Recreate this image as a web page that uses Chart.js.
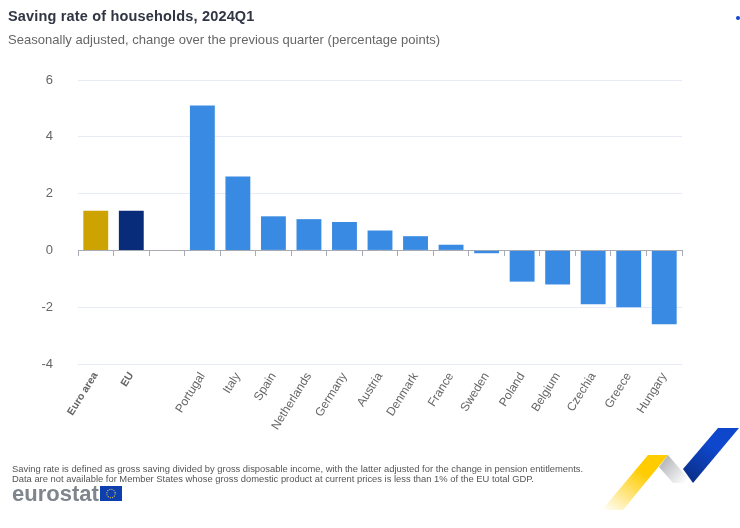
<!DOCTYPE html>
<html>
<head>
<meta charset="utf-8">
<script src="https://cdn.jsdelivr.net/npm/chart.js@4"></script>
<style>
  html, body { margin: 0; padding: 0; background: #fff; overflow: hidden; }
  body { width: 740px; height: 528px; position: relative; font-family: "Liberation Sans", Arial, sans-serif; }
  canvas { position: absolute; left: 0; top: 0; }
  .txt { position: absolute; white-space: nowrap; }
  #title { left: 8px; top: 8px; font-size: 14.5px; font-weight: bold; color: #2f3542; letter-spacing: .17px; }
  #subtitle { left: 8px; top: 32px; font-size: 13px; color: #666; letter-spacing: .03px; }
  #note { left: 12px; top: 464px; font-size: 9.4px; line-height: 9.5px; color: #555; }
  #brand { left: 12px; top: 481px; font-size: 22px; line-height: 26px; font-weight: bold; color: #7f858c; }
  #dot { left: 736px; top: 16px; width: 4px; height: 4px; border-radius: 2px; background: #0e47cb; }
  #art { position: absolute; left: 0; top: 0; }
</style>
</head>
<body>
<canvas id="savingChart" width="740" height="528"></canvas>
<div class="txt" id="title">Saving rate of households, 2024Q1</div>
<div class="txt" id="subtitle">Seasonally adjusted, change over the previous quarter (percentage points)</div>
<div class="txt" id="dot"></div>
<div class="txt" id="note">Saving rate is defined as gross saving divided by gross disposable income, with the latter adjusted for the change in pension entitlements.<br>Data are not available for Member States whose gross domestic product at current prices is less than 1% of the EU total GDP.</div>
<div class="txt" id="brand">eurostat</div>
<svg id="art" width="740" height="528">
  <defs>
    <linearGradient id="yel" x1="0" y1="1" x2="0.6" y2="0.3">
      <stop offset="0" stop-color="#ffcc00" stop-opacity="0"/>
      <stop offset="1" stop-color="#ffcc00"/>
    </linearGradient>
    <linearGradient id="gry" x1="0" y1="0" x2="1" y2="0.7">
      <stop offset="0" stop-color="#a5a8ac"/>
      <stop offset="1" stop-color="#ffffff"/>
    </linearGradient>
    <linearGradient id="blu" x1="0.2" y1="1" x2="0.6" y2="0.4">
      <stop offset="0" stop-color="#0b2f8a"/>
      <stop offset="1" stop-color="#0e47cb"/>
    </linearGradient>
  </defs>
  <polygon points="602,510 623,510 668,455 648,455" fill="url(#yel)"/>
  <polygon points="659,467 668,455 692,483 673,483" fill="url(#gry)"/>
  <polygon points="683,469 718,428 739,428 693,483" fill="url(#blu)"/>
  <rect x="100" y="486" width="22" height="15" fill="#0e3fae"/>
  <circle cx="111" cy="493.5" r="4.2" fill="none" stroke="#d8c15a" stroke-width="1.2" stroke-dasharray="1 1.2"/>
</svg>
<script>
var categories = ['Euro area', 'EU', ' ', 'Portugal', 'Italy', 'Spain', 'Netherlands', 'Germany', 'Austria', 'Denmark', 'France', 'Sweden', 'Poland', 'Belgium', 'Czechia', 'Greece', 'Hungary'];
var values = [1.4, 1.4, null, 5.1, 2.6, 1.2, 1.1, 1.0, 0.7, 0.5, 0.2, -0.1, -1.1, -1.2, -1.9, -2.0, -2.6];
var barColors = ['#cca300', '#082b7a', '#388ae2', '#388ae2', '#388ae2', '#388ae2', '#388ae2', '#388ae2', '#388ae2', '#388ae2', '#388ae2', '#388ae2', '#388ae2', '#388ae2', '#388ae2', '#388ae2', '#388ae2'];
var boldCategories = ['Euro area', 'EU'];

new Chart(document.getElementById('savingChart'), {
  type: 'bar',
  data: {
    labels: categories,
    datasets: [{
      data: values,
      backgroundColor: barColors,
      barPercentage: 0.7,
      categoryPercentage: 1
    }]
  },
  options: {
    responsive: false,
    animation: false,
    devicePixelRatio: 1,
    layout: {padding: {top: 80, right: 58, bottom: 0, left: 0}},
    plugins: {legend: {display: false}, title: {display: false}, tooltip: {enabled: false}},
    scales: {
      y: {
        min: -4, max: 6,
        afterFit: s => { s.width = 78 },
        border: {display: false},
        grid: {color: '#e6ebf5', drawTicks: false},
        ticks: {stepSize: 2, padding: 25, color: '#666', font: {family: 'Liberation Sans', size: 13}}
      },
      x: {
        position: 'bottom',
        afterFit: s => { s.height = 164 },
        border: {display: false},
        grid: {display: false, drawTicks: false},
        ticks: {
          autoSkip: false, minRotation: 58, maxRotation: 58, padding: 6, color: '#666',
          font: c => {
            var bold = boldCategories.includes(c.tick && c.tick.label)
            return {family: 'Liberation Sans', size: bold ? 10.5 : 12, weight: bold ? 'bold' : 'normal'}
          }
        }
      },
      // baseline with tick marks at zero
      zero: {
        type: 'category',
        axis: 'x',
        labels: categories,
        position: {y: 0},
        offset: true,
        afterFit: s => { s.height = 0 },
        border: {color: '#a8abb3'},
        grid: {offset: true, drawOnChartArea: false, drawTicks: true, tickLength: 5, color: '#a8abb3'},
        ticks: {display: false, autoSkip: false}
      }
    }
  }
});
</script>
</body>
</html>
